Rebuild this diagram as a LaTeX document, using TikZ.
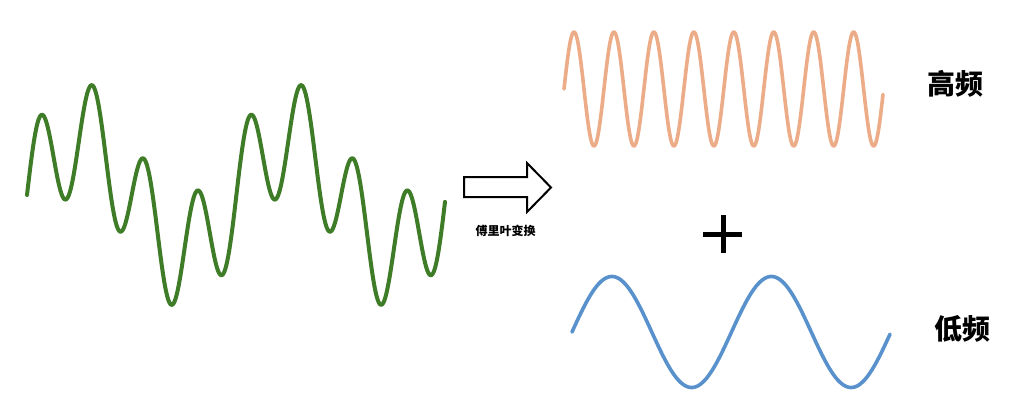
\documentclass[tikz,border=0pt]{standalone}
\usepackage{fontspec}
\newfontfamily\cjk{Noto Sans CJK SC}
\definecolor{wgreen}{RGB}{62,124,40}
\definecolor{worange}{RGB}{236,172,136}
\definecolor{wblue}{RGB}{88,145,204}
\begin{document}
\begin{tikzpicture}[x=1pt,y=-1pt,
  wave/.style={line width=3.6pt, line cap=round, line join=round},
  biglabel/.style={font=\cjk\bfseries\fontsize{28}{30}\selectfont, inner sep=0pt, text=black},
  smalllabel/.style={font=\cjk\bfseries\fontsize{12}{14}\selectfont, inner sep=0pt, text=black},
  plusbar/.style={line width=5pt, black},
  blockarrow/.style={line width=2pt, black, line join=miter, fill=white}]
\useasboundingbox (0,0) rectangle (1032,417);
\fill[white] (0,0) rectangle (1032,417);
% combined signal
\draw[wave, wgreen, line width=4pt] plot[domain=27:445, samples=400]
  (\x, {195 - 57*sin(1.71920*(\x-27)) - 57*sin(6.87679*(\x-27))});
% high frequency
\draw[wave, worange] plot[domain=564:883, samples=400]
  (\x, {89 - 57*sin(9.01126*(\x-564))});
% low frequency
\draw[wave, wblue] plot[domain=572:890, samples=300]
  (\x, {332 - 55.5*sin(2.25705*(\x-572))});
% block arrow
\draw[blockarrow] (464,177) -- (527,177) -- (527,163) -- (551,187.5) -- (527,212) -- (527,197) -- (464,197) -- cycle;
\node[smalllabel] (ft) at (505.5,231) {傅里叶变换};
% plus sign
\coordinate (pl) at (703,234);
\coordinate (pr) at (742,234);
\coordinate (pt) at (723,215);
\coordinate (pb) at (723,253);
\draw[plusbar] (pl) -- (pr);
\draw[plusbar] (pt) -- (pb);
% labels
\node[biglabel] (high) at (955.5,84) {高频};
\node[biglabel] (low) at (962,329) {低频};
\end{tikzpicture}
\end{document}
